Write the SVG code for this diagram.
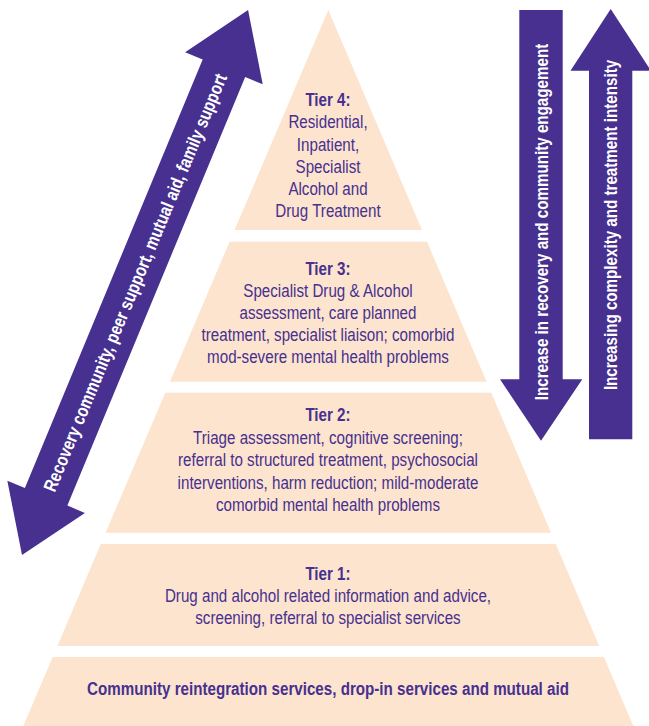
<svg xmlns="http://www.w3.org/2000/svg" width="649" height="726" viewBox="0 0 649 726">
<style>
.band{fill:#FCE4CE;}
.arrow{fill:#47308F;}
text{font-family:"Liberation Sans",Arial,sans-serif;font-size:18.5px;text-anchor:middle;}
.t{fill:#47308F;}
.b{font-weight:bold;}
.w{fill:#FFFFFF;font-weight:bold;}
</style>
<g id="tier4">
<polygon class="band" points="328.3,10 422,230 234.6,230"/>
<g transform="scale(0.82 1)">
<text class="t b" x="400" y="106">Tier 4:</text>
<text class="t" x="400" y="128.5">Residential,</text>
<text class="t" x="400" y="151">Inpatient,</text>
<text class="t" x="400" y="173">Specialist</text>
<text class="t" x="400" y="195">Alcohol and</text>
<text class="t" x="400" y="217">Drug Treatment</text>
</g>
</g>
<g id="tier3">
<polygon class="band" points="229.6,241.7 427,241.7 486.6,381.7 170,381.7"/>
<g transform="scale(0.82 1)">
<text class="t b" x="400" y="275">Tier 3:</text>
<text class="t" x="400" y="297.5">Specialist Drug &amp; Alcohol</text>
<text class="t" x="400" y="319.5">assessment, care planned</text>
<text class="t" x="400" y="341.5">treatment, specialist liaison; comorbid</text>
<text class="t" x="400" y="363">mod-severe mental health problems</text>
</g>
</g>
<g id="tier2">
<polygon class="band" points="165.3,392.7 491.3,392.7 551,532.7 105.6,532.7"/>
<g transform="scale(0.82 1)">
<text class="t b" x="400" y="421.5">Tier 2:</text>
<text class="t" x="400" y="444">Triage assessment, cognitive screening;</text>
<text class="t" x="400" y="466.5">referral to structured treatment, psychosocial</text>
<text class="t" x="400" y="489">interventions, harm reduction; mild-moderate</text>
<text class="t" x="400" y="511.5">comorbid mental health problems</text>
</g>
</g>
<g id="tier1">
<polygon class="band" points="100.8,544 555.8,544 599.2,646 57.4,646"/>
<g transform="scale(0.82 1)">
<text class="t b" x="400" y="580">Tier 1:</text>
<text class="t" x="400" y="602">Drug and alcohol related information and advice,</text>
<text class="t" x="400" y="624.5">screening, referral to specialist services</text>
</g>
</g>
<g id="base">
<polygon class="band" points="52.7,657 603.9,657 633.3,726 23.3,726"/>
<g transform="scale(0.82 1)">
<text class="t b" x="400" y="695">Community reintegration services, drop-in services and mutual aid</text>
</g>
</g>
<g id="connectors">
<g id="arrow-recovery" transform="translate(22,555) rotate(-67.47)">
<path class="arrow" d="M0,0 L63,-42 L63,-23 L527,-23 L527,-42 L590,0 L527,42 L527,23 L63,23 L63,42 Z"/>
<text class="w" transform="scale(0.82 1)" x="359.8" y="6.5">Recovery community, peer support, mutual aid, family support</text>
</g>
<g id="arrow-engagement">
<path class="arrow" d="M519.3,10 L562.7,10 L562.7,379.3 L582.3,379.3 L541,440.7 L500,379.3 L519.3,379.3 Z"/>
<text class="w" transform="translate(541,222) rotate(-90) scale(0.82 1)" x="0" y="6.5">Increase in recovery and community engagement</text>
</g>
<g id="arrow-complexity">
<path class="arrow" d="M589,439.3 L632.3,439.3 L632.3,70.7 L650.9,70.7 L610.7,9 L570.5,70.7 L589,70.7 Z"/>
<text class="w" transform="translate(610.7,225) rotate(-90) scale(0.82 1)" x="0" y="6.5">Increasing complexity and treatment intensity</text>
</g>
</g>
</svg>
